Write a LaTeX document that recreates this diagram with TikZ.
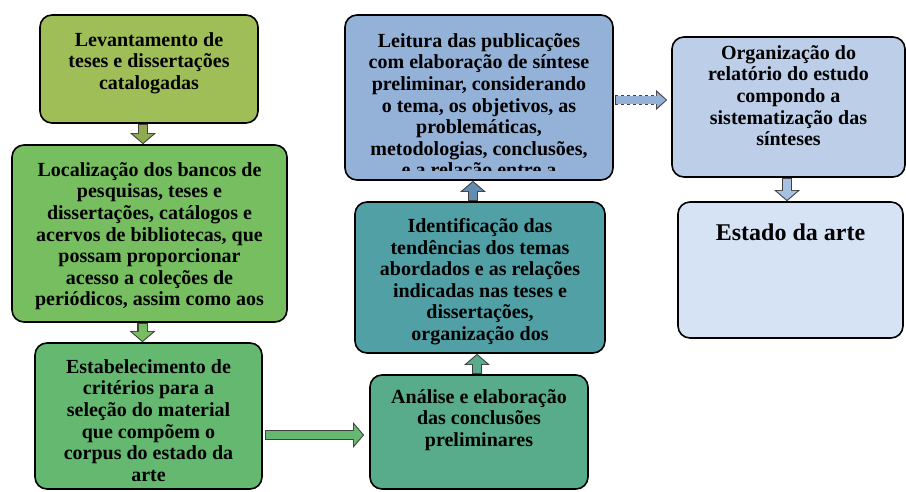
\documentclass[tikz,border=0pt]{standalone}
\usepackage{fontspec}
\setmainfont{Liberation Serif}
\usetikzlibrary{positioning, arrows.meta}

\definecolor{levcol}{RGB}{160,190,88}
\definecolor{loccol}{RGB}{118,190,96}
\definecolor{estcol}{RGB}{100,184,112}
\definecolor{anacol}{RGB}{88,172,140}
\definecolor{idecol}{RGB}{80,160,166}
\definecolor{leicol}{RGB}{148,178,216}
\definecolor{orgcol}{RGB}{188,206,232}
\definecolor{stacol}{RGB}{214,227,245}
\definecolor{upcol}{RGB}{98,140,176}

\begin{document}
\begin{tikzpicture}[x=1pt, y=1pt,
    box/.style={draw=black, line width=1.6pt, rounded corners=12pt, fill=#1},
    txt/.style={align=center, inner sep=1pt, font=\bfseries\fontsize{20}{21.6}\selectfont},
    blk/.style={preaction={draw=black!75, line width=10.5pt, shorten >=0pt, shorten <=0pt,
        -{Triangle[length=11pt, width=25pt]}},
      draw=#1, line width=8pt, shorten >=1.4pt, shorten <=0.8pt,
      -{Triangle[length=9pt, width=20.5pt]}},
    dblk/.style={preaction={draw=black!75, dashed, line width=10pt, shorten >=0pt, shorten <=0pt,
        -{Triangle[length=11pt, width=19pt]}},
      draw=#1, line width=7.5pt, shorten >=1.4pt, shorten <=0.8pt,
      -{Triangle[length=9pt, width=15pt]}}
  ]
  \useasboundingbox (0,0) rectangle (906,-491);

  % left column
  \node[box=levcol, minimum width=218pt, minimum height=108pt] (lev) at (149,-69) {};
  \node[box=loccol, minimum width=275pt, minimum height=177pt] (loc) at (149.5,-233.5) {};
  \node[box=estcol, minimum width=227pt, minimum height=146pt] (est) at (148.5,-416) {};

  % middle column
  \node[box=anacol, minimum width=218pt, minimum height=114pt] (ana) at (479,-432) {};
  \node[box=idecol, minimum width=250pt, minimum height=151pt] (ide) at (480,-277.5) {};
  \node[box=leicol, minimum width=268pt, minimum height=165pt] (lei) at (479,-97.5) {};

  % right column
  \node[box=orgcol, minimum width=233pt, minimum height=140pt] (org) at (788.5,-107) {};
  \node[box=stacol, minimum width=225pt, minimum height=136pt] (sta) at (790.5,-270) {};

  % texts
  \node[txt, below=17pt of lev.north] (levt) {Levantamento de\\teses e dissertações\\catalogadas};
  \node[txt, below=17pt of loc.north] (loct) {Localização dos bancos de\\pesquisas, teses e\\dissertações, catálogos e\\acervos de bibliotecas, que\\possam proporcionar\\acesso a coleções de\\periódicos, assim como aos};
  \node[txt, below=16pt of est.north] (estt) {Estabelecimento de\\critérios para a\\seleção do material\\que compõem o\\corpus do estado da\\arte};
  \node[txt, below=14pt of ana.north] (anat) {Análise e elaboração\\das conclusões\\preliminares};
  \node[txt, below=16pt of ide.north] (idet) {Identificação das\\tendências dos temas\\abordados e as relações\\indicadas nas teses e\\dissertações,\\organização dos};
  \begin{scope}
    \clip (lei.north west) rectangle ([yshift=10.5pt]lei.south east);
    \node[txt, below=18pt of lei.north] (leit) {Leitura das publicações\\com elaboração de síntese\\preliminar, considerando\\o tema, os objetivos, as\\problemáticas,\\metodologias, conclusões,\\e a relação entre a};
  \end{scope}
  \node[txt, below=8pt of org.north] (orgt) {Organização do\\relatório do estudo\\compondo a\\sistematização das\\sínteses};
  \node[txt, font=\bfseries\fontsize{24}{26}\selectfont, below=21pt of sta.north] (stat) {Estado da arte};

  % arrows
  \draw[blk=levcol!90!black] ([xshift=-6pt]lev.south) -- ([xshift=-6pt]lev.south |- loc.north);
  \draw[blk=loccol] ([xshift=-7pt]loc.south) -- ([xshift=-7pt]loc.south |- est.north);
  \draw[blk=estcol] ([xshift=2pt, yshift=-19pt]est.east) -- ([xshift=-5pt, yshift=-3pt]ana.west);
  \draw[blk=anacol] ([xshift=-2pt]ana.north) -- ([xshift=-2pt]ana.north |- ide.south);
  \draw[blk=upcol] ([xshift=-7pt]ide.north) -- ([xshift=-7pt]ide.north |- lei.south);
  \draw[dblk=leicol] ([xshift=1pt, yshift=-2.5pt]lei.east) -- ([xshift=-4pt, yshift=7pt]org.west);
  \draw[blk=leicol!80!white] ([xshift=-1.5pt]org.south) -- ([xshift=-1.5pt]org.south |- sta.north);
\end{tikzpicture}
\end{document}
